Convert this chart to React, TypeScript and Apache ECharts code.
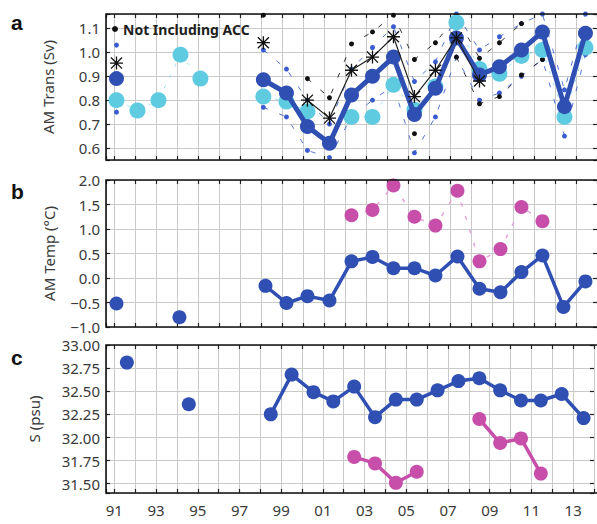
import React, { useEffect, useRef } from 'react';
import * as echarts from 'echarts';

// ---------- Panel a: AM transport (Sv) ----------
const yearsA = [1991.1, 1992.1, 1993.1, 1994.15, 1995.1, 1996.5, 1998.1, 1999.2, 2000.2, 2001.25, 2002.3, 2003.3, 2004.3, 2005.3, 2006.3, 2007.3, 2008.4, 2009.35, 2010.4, 2011.4, 2012.45, 2013.45];
const transBlue = [0.89, null, null, null, null, null, 0.885, 0.83, 0.69, 0.62, 0.822, 0.9, 0.98, 0.74, 0.85, 1.06, 0.905, 0.94, 1.01, 1.085, 0.773, 1.08];
const transCyan = [0.8, 0.757, 0.8, 0.99, 0.89, null, 0.815, 0.794, 0.753, null, 0.73, 0.73, 0.864, 0.76, 0.857, 1.125, 0.93, 0.91, 0.985, 1.01, 0.73, 1.02];
const transStar = [0.955, null, null, null, null, null, 1.04, null, 0.8, 0.725, 0.925, 0.98, 1.065, 0.815, 0.925, 1.06, 0.88, null, null, null, null, null];
const blueHi = [1.03, null, null, null, null, null, 1.01, 0.93, 0.8, 0.7, 0.93, 1.02, 1.107, 0.878, 0.96, 1.16, 1.01, 1.065, 1.12, 1.16, 0.843, 1.16];
const blueLo = [0.75, null, null, null, null, null, 0.77, 0.73, 0.59, 0.56, 0.73, 0.8, 0.86, 0.58, 0.73, 0.98, 0.8, 0.83, 0.9, 0.97, 0.65, 0.99];
const accHi = [null, null, null, null, null, null, 1.155, null, 0.89, 0.81, 1.035, 1.085, 1.155, 0.97, 1.04, 1.15, 0.975, 1.04, 1.12, null, null, null];
const accLo = [null, null, null, null, null, null, null, null, null, null, null, null, null, 0.66, null, 0.98, 0.785, 0.815, 0.905, 0.97, null, null];

// ---------- Panel b: AM temperature (°C) ----------
const yearsB = [1991.1, 1992.5, 1994.1, 1996.5, 1998.2, 1999.2, 2000.2, 2001.25, 2002.3, 2003.3, 2004.3, 2005.3, 2006.3, 2007.35, 2008.4, 2009.4, 2010.4, 2011.4, 2012.4, 2013.45];
const tempBlue = [-0.52, null, -0.8, null, -0.16, -0.51, -0.37, -0.46, 0.34, 0.43, 0.2, 0.2, 0.05, 0.44, -0.22, -0.29, 0.12, 0.46, -0.59, -0.07];
const tempMagenta = [null, null, null, null, null, null, null, null, 1.28, 1.39, 1.89, 1.25, 1.07, 1.78, 0.34, 0.59, 1.45, 1.16, null, null];

// ---------- Panel c: salinity (psu) ----------
const yearsC = [1991.6, 1993.0, 1994.57, 1996.5, 1998.5, 1999.5, 2000.55, 2001.5, 2002.5, 2003.5, 2004.5, 2005.5, 2006.5, 2007.5, 2008.5, 2009.5, 2010.5, 2011.45, 2012.45, 2013.5];
const salBlue = [32.81, null, 32.36, null, 32.25, 32.68, 32.49, 32.39, 32.55, 32.22, 32.41, 32.41, 32.51, 32.61, 32.64, 32.51, 32.4, 32.4, 32.47, 32.21];
const salMagenta = [null, null, null, null, null, null, null, null, 31.79, 31.72, 31.51, 31.63, null, null, 32.2, 31.94, 31.99, 31.61, null, null];

// ---------- axis settings ----------
const X_MIN = 1990.6;
const X_MAX = 2014.0;
const yA = { min: 0.55, max: 1.16, step: 0.1, digits: 1 };
const yB = { min: -1, max: 2, step: 0.5, digits: 1 };
const yC = { min: 31.4, max: 33, step: 0.25, digits: 2 };

const GRIDS = [
  { left: 106, top: 14, width: 496, height: 146 },
  { left: 106, top: 180, width: 496, height: 147 },
  { left: 106, top: 345, width: 496, height: 148 },
];

const BLUE = '#2f4fb2';
const CYAN = '#5fcbe0';
const MAGENTA = '#c74ea9';
const SMALL_BLUE = '#3a5cd0';
const FONT = 'Noto Sans';
const LABEL_COLOR = '#3a3a3a';

const ASTERISK =
  'path://M9,0H11V20H9Z M0,9H20V11H0Z M2.2,0.8L19.2,17.8L17.8,19.2L0.8,2.2Z M17.8,0.8L19.2,2.2L2.2,19.2L0.8,17.8Z';

const isMultiple = (v: number, step: number) => Math.abs(v / step - Math.round(v / step)) < 1e-6;

const toData = (xs: number[], ys: (number | null)[]) => xs.map((x, i) => [x, ys[i] == null ? '-' : ys[i]]);

const tick = { show: true, inside: true, length: 4, lineStyle: { color: '#222', width: 1.2 } };

function xAxesFor(gridIndex: number, showLabels: boolean) {
  const common = {
    type: 'value',
    gridIndex,
    min: X_MIN,
    max: X_MAX,
    minInterval: 1,
    maxInterval: 1,
    splitNumber: 24,
    axisLine: { show: false, onZero: false },
    axisTick: tick,
  };
  return [
    {
      ...common,
      position: 'bottom',
      axisLabel: {
        show: showLabels,
        hideOverlap: false,
        margin: 9,
        fontSize: 15,
        fontFamily: FONT,
        color: LABEL_COLOR,
        formatter: (v: number) => {
          const r = Math.round(v);
          if (Math.abs(v - r) > 1e-6 || r % 2 === 0) return '';
          return String(r % 100).padStart(2, '0');
        },
      },
      splitLine: { show: true, lineStyle: { color: '#c9c9c9', width: 1 } },
    },
    { ...common, position: 'top', axisLabel: { show: false }, splitLine: { show: false } },
  ];
}

function yAxesFor(gridIndex: number, cfg: any, name: string, nameGap: number) {
  const common: any = {
    type: 'value',
    gridIndex,
    min: cfg.min,
    max: cfg.max,
    axisLine: { show: false, onZero: false },
    axisTick: tick,
  };
  if (isMultiple(cfg.min, cfg.step)) {
    common.interval = cfg.step;
  } else {
    common.minInterval = cfg.step;
    common.maxInterval = cfg.step;
  }
  return [
    {
      ...common,
      position: 'left',
      name,
      nameLocation: 'middle',
      nameGap,
      nameTextStyle: { fontSize: 15, fontFamily: FONT, color: LABEL_COLOR },
      axisLabel: {
        margin: 6,
        fontSize: 15,
        fontFamily: FONT,
        color: LABEL_COLOR,
        showMinLabel: true,
        showMaxLabel: true,
        formatter: (v: number) => {
          if (!isMultiple(v, cfg.step)) return '';
          const s = Math.abs(v).toFixed(cfg.digits);
          return v < -1e-9 ? '\u2212' + s : s;
        },
      },
      splitLine: { show: true, lineStyle: { color: '#c9c9c9', width: 1 } },
    },
    { ...common, position: 'right', axisLabel: { show: false }, splitLine: { show: false } },
  ];
}

function lineSeries(xIdx: number, xs: number[], ys: (number | null)[], o: any) {
  return {
    type: 'line',
    xAxisIndex: xIdx,
    yAxisIndex: xIdx,
    data: toData(xs, ys),
    connectNulls: false,
    symbol: o.symbol || 'circle',
    symbolSize: o.size,
    showSymbol: true,
    itemStyle: { color: o.color },
    lineStyle: { color: o.lineColor || o.color, width: o.width, type: o.type || 'solid', opacity: o.opacity ?? 1 },
    emphasis: { disabled: true },
    z: o.z ?? 2,
    name: o.name,
    silent: true,
  };
}

export default function App() {
  const ref = useRef<HTMLDivElement>(null);
  useEffect(() => {
    if (!ref.current) return;
    const chart = echarts.init(ref.current, undefined, { renderer: 'svg' });
    const option: any = {
      animation: false,
      backgroundColor: '#ffffff',
      textStyle: { fontFamily: FONT },
      grid: GRIDS.map((g) => ({ ...g, show: false })),
      xAxis: [...xAxesFor(0, false), ...xAxesFor(1, false), ...xAxesFor(2, true)],
      yAxis: [
        ...yAxesFor(0, yA, 'AM Trans (Sv)', 51),
        ...yAxesFor(1, yB, 'AM Temp (°C)', 50),
        ...yAxesFor(2, yC, 'S (psu)', 65),
      ],
      legend: {
        data: ['Not Including ACC'],
        left: 112,
        top: 22,
        padding: 0,
        itemWidth: 6,
        itemHeight: 6,
        icon: 'circle',
        selectedMode: false,
        textStyle: { fontSize: 14, fontWeight: 'bold', color: '#1e1e1e', fontFamily: FONT },
      },
      series: [
        // panel a
        lineSeries(0, yearsA, blueHi, { size: 5, color: SMALL_BLUE, width: 1, type: [5, 12], opacity: 0.85, z: 2 }),
        lineSeries(0, yearsA, blueLo, { size: 5, color: SMALL_BLUE, width: 1, type: [5, 12], opacity: 0.85, z: 2 }),
        lineSeries(0, yearsA, accHi, { name: 'Not Including ACC', size: 5, color: '#111', width: 1, type: [5, 12], opacity: 0.85, z: 3 }),
        lineSeries(0, yearsA, accLo, { name: 'Not Including ACC', size: 5, color: '#111', width: 1, type: [5, 12], opacity: 0.85, z: 3 }),
        lineSeries(0, yearsA, transCyan, { size: 16, color: CYAN, width: 1, type: [3, 9], opacity: 0.6, z: 4 }),
        lineSeries(0, yearsA, transBlue, { size: 15, color: BLUE, width: 5, z: 5 }),
        lineSeries(0, yearsA, transStar, { symbol: ASTERISK, size: 13, color: '#111', lineColor: '#222', width: 1.2, z: 6 }),
        // panel b
        lineSeries(2, yearsB, tempMagenta, { size: 14, color: MAGENTA, lineColor: '#e6a3d8', width: 1.5, type: [4, 10], z: 3 }),
        lineSeries(2, yearsB, tempBlue, { size: 14, color: BLUE, width: 3.5, z: 4 }),
        // panel c
        lineSeries(4, yearsC, salBlue, { size: 14, color: BLUE, width: 3.5, z: 4 }),
        lineSeries(4, yearsC, salMagenta, { size: 14, color: MAGENTA, width: 3.5, z: 4 }),
      ],
      graphic: [
        ...GRIDS.map((g) => ({
          type: 'rect',
          z: 100,
          silent: true,
          shape: { x: g.left, y: g.top, width: g.width, height: g.height },
          style: { fill: 'none', stroke: '#111', lineWidth: 1.6 },
        })),
        ...[
          ['a', 22],
          ['b', 191],
          ['c', 357],
        ].map(([t, y]) => ({
          type: 'text',
          z: 100,
          x: 11,
          y: y as number,
          style: {
            text: t as string,
            fontSize: 21,
            fontWeight: 'bold',
            fontFamily: 'Liberation Sans',
            fill: '#111',
            textVerticalAlign: 'middle',
            verticalAlign: 'middle',
          },
        })),
      ],
    };
    chart.setOption(option);
    return () => chart.dispose();
  }, []);
  return (
    <div
      ref={ref}
      style={{ position: 'fixed', left: 0, top: 0, width: 597, height: 524, background: '#fff' }}
    />
  );
}
